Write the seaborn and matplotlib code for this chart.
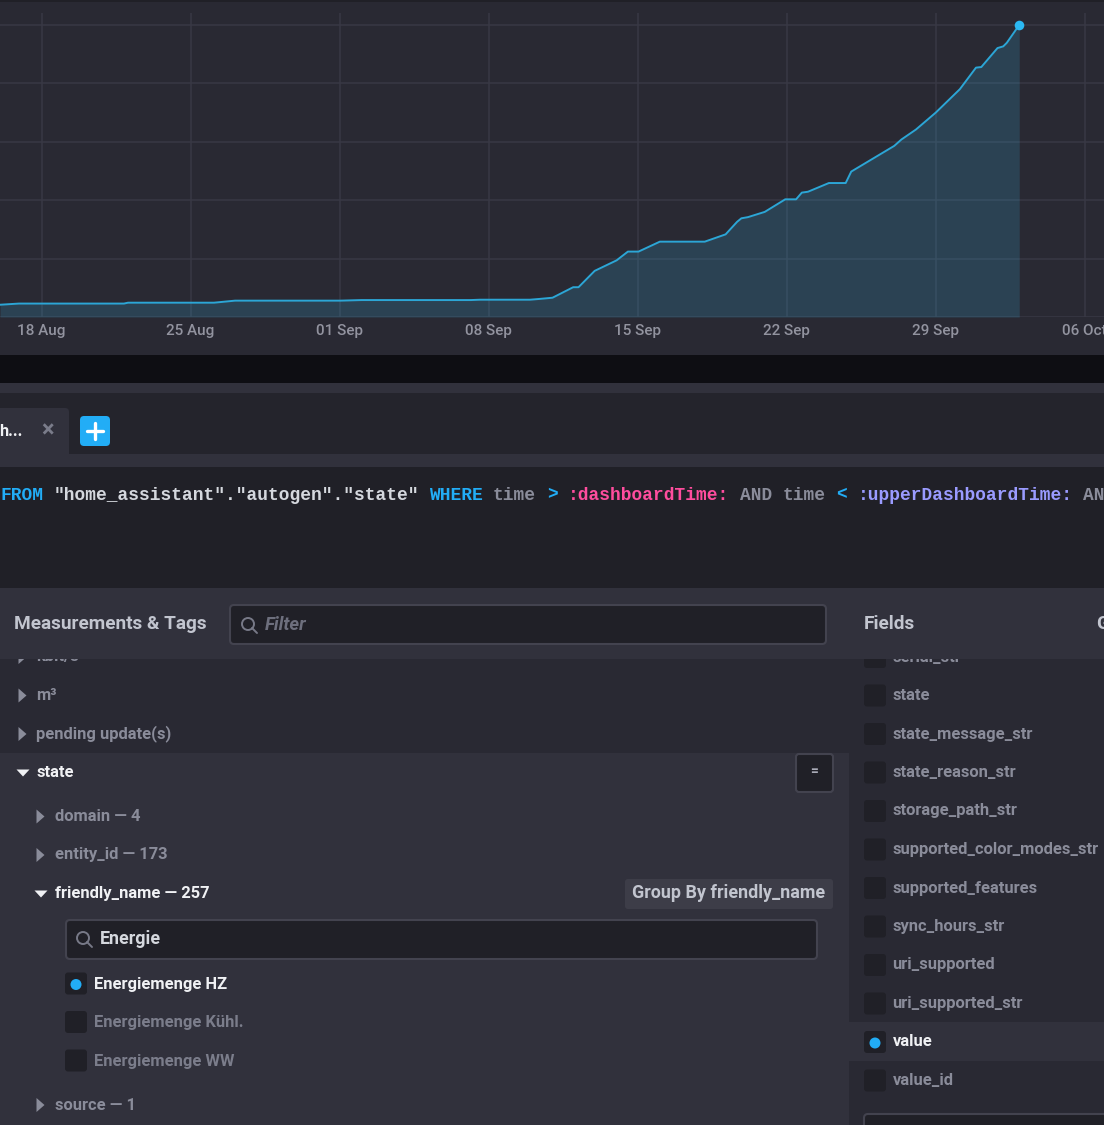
import pandas as pd
import numpy as np
import matplotlib
matplotlib.use('Agg')
import matplotlib.pyplot as plt
import matplotlib.dates as mdates
from matplotlib.patches import Rectangle, FancyBboxPatch, Polygon, Circle
from matplotlib.transforms import ScaledTranslation
import seaborn as sns

# values (days after 18 Aug, energy in chart units)
day_offset = [-1.97, -1.08, 3.85, 4.04, 8.08, 9.07, 14.03, 15.01, 20.14, 20.57, 22.92,
              23.39, 23.98, 24.95, 25.2, 25.96, 26.99, 27.52, 28.02, 29.02, 31.13,
              32.11, 32.65, 32.85, 33.16, 33.95, 34.91, 35.42, 35.69, 35.98, 36.96,
              37.75, 38.01, 40.03, 40.37, 41.05, 41.98, 43.11, 43.87, 44.12, 44.88,
              45.15, 45.32, 45.9]
energy = [21, 23, 23, 24.5, 24.5, 28, 28, 29, 29, 29.6, 29.6,
          31, 33, 51, 51, 79, 97, 112, 112, 129, 129,
          141.5, 163, 169, 171, 180, 201.5, 201.5, 213, 214.5, 229.4,
          229.4, 249, 293, 304, 321, 350, 390, 427, 428, 460.5,
          463.4, 469.6, 500]
grid_values = [0, 100, 200, 300, 400, 500]
tick_weeks = ['2023-08-18', '2023-08-25', '2023-09-01', '2023-09-08',
              '2023-09-15', '2023-09-22', '2023-09-29', '2023-10-06']

tag_rows = ['kbit/s', 'm³', 'pending update(s)', 'state']
tag_subrows = ['domain — 4', 'entity_id — 173', 'friendly_name — 257']
energy_rows = ['Energiemenge HZ', 'Energiemenge Kühl.', 'Energiemenge WW']
field_rows = ['serial_str', 'state', 'state_message_str', 'state_reason_str', 'storage_path_str',
              'supported_color_modes_str', 'supported_features', 'sync_hours_str',
              'uri_supported', 'uri_supported_str', 'value', 'value_id']

query_parts = [('FROM', 'blue'), ('"home_assistant"."autogen"."state"', 'white'), ('WHERE', 'blue'),
               ('time', 'grey'), ('>', 'blue'), (':dashboardTime:', 'pink'), ('AND', 'grey'),
               ('time', 'grey'), ('<', 'blue'), (':upperDashboardTime:', 'purple'), ('AN', 'grey')]

df = pd.DataFrame({
    'time': pd.Timestamp('2023-08-18') + pd.to_timedelta(day_offset, unit='D'),
    'energy': energy,
})

sns.set_theme(style='dark')
plt.rcParams['font.family'] = ['Roboto', 'DejaVu Sans']

BLUE = '#22adf6'
PANEL = '#292933'
LIGHT = '#31313c'
DARK = '#202027'
EDGE = '#43434f'
CODE = {'blue': BLUE, 'white': '#d5d8de', 'grey': '#8a8c9a', 'pink': '#ff4d9e', 'purple': '#9a9bff'}

W, H = 1104, 1125
fig = plt.figure(figsize=(W / 100, H / 100), dpi=100, facecolor=PANEL)

# page chrome, in pixel coordinates
ui = fig.add_axes([0, 0, 1, 1])
ui.set_xlim(0, W)
ui.set_ylim(H, 0)
ui.axis('off')


def rect(x0, y0, x1, y1, color, z=1):
    ui.add_patch(Rectangle((x0, y0), x1 - x0, y1 - y0, fc=color, ec='none', zorder=z))


def box(x0, y0, x1, y1, fc, ec='none', lw=1.5, r=4, z=3):
    ui.add_patch(FancyBboxPatch((x0, y0), x1 - x0, y1 - y0, boxstyle=f'round,pad=0,rounding_size={r}',
                                fc=fc, ec=ec, lw=lw, zorder=z))


def label(x, y, s, color='#8a8c9a', size=11.85, weight='bold', z=2, **kw):
    ui.text(x, y + 1, s, color=color, fontsize=size, fontweight=weight, va='center', zorder=z, **kw)


def tri_right(x, y, color='#8a8c9a'):
    ui.add_patch(Polygon([(x, y - 7), (x + 8, y), (x, y + 7)], fc=color, ec='none', zorder=2))


def tri_down(x, y, color='#f0f1f4'):
    ui.add_patch(Polygon([(x, y - 3), (x + 13, y - 3), (x + 6.5, y + 4)], fc=color, ec='none', zorder=2))


def search_icon(x, y, z=4):
    ui.add_patch(Circle((x, y), 6, fc='none', ec='#777987', lw=1.4, zorder=z))
    ui.plot([x + 4, x + 9], [y + 4, y + 9], color='#777987', lw=1.4, zorder=z)


def check(x, y, on=False):
    box(x, y - 11, x + 22, y + 11, '#202027', r=3, z=2)
    if on:
        ui.add_patch(Circle((x + 11, y + 1), 5.5, fc=BLUE, ec='none', zorder=3))


# background bands
rect(0, 0, W, 1.5, '#202027')
rect(0, 355, W, 383, '#0e0e13')
rect(0, 383, W, 393, LIGHT)
rect(0, 393, W, 455, '#24242c')
rect(0, 454, W, 467, LIGHT, z=1.3)
rect(0, 467, W, 588, DARK, z=1.3)
rect(0, 753, 849, H, LIGHT)
rect(849, 1022, W, 1061, LIGHT)
rect(0, 588, W, 659, LIGHT, z=5)

# tab row
ui.add_patch(FancyBboxPatch((-10, 408), 79, 50, boxstyle='round,pad=0,rounding_size=4', fc=LIGHT, ec='none', zorder=1.2))
label(-1, 430, 'h...', color='#f0f1f4', size=11.8, z=6)
label(48, 430, '×', color='#7a7c8a', size=17, ha='center', z=6)
box(80, 416, 110, 446, BLUE, r=4)
ui.plot([95, 95], [423, 439], color='white', lw=2.4, zorder=4, solid_capstyle='round')
ui.plot([87, 103], [431, 431], color='white', lw=2.4, zorder=4, solid_capstyle='round')

# query line
ADVANCE = 10.72
col = 0
for part, tone in query_parts:
    ui.text(col * ADVANCE, 495, part, color=CODE[tone], fontsize=12.9, fontweight='bold',
            family='Liberation Mono', va='center', zorder=2)
    col += len(part) + 1

# headers
label(14, 623, 'Measurements & Tags', color='#c2c5cf', size=13.65, z=6)
label(864, 623, 'Fields', color='#c2c5cf', size=13.65, z=6)
label(1096.5, 623, 'G', color='#c2c5cf', size=13.65, z=6)
box(230, 605, 826, 644, DARK, EDGE, z=6)
search_icon(248, 624, z=7)
ui.text(265, 625, 'Filter', color='#6d6f7d', fontsize=13.3, fontstyle='italic', fontweight='bold', va='center', zorder=7)

# measurements column
row_y = 656
for i, name in enumerate(tag_rows):
    y = row_y + i * 38.5
    if name == 'state':
        tri_down(16.5, y + 1)
        label(36.5, y, name, color='#f0f1f4')
    else:
        tri_right(18.5, y + 1)
        label(36.5, y, name)

box(796, 754, 833, 792, DARK, EDGE, r=3)
label(814, 770, '=', color='#a9abb7', size=10, ha='center', z=4)

for i, name in enumerate(tag_subrows):
    y = 815.5 + i * 38.5
    if name.startswith('friendly'):
        tri_down(34.5, y + 1)
        label(55, y, name, color='#f0f1f4')
    else:
        tri_right(36.5, y + 1)
        label(55, y, name)

box(625, 879, 833, 909, '#3d3d48', r=3)
label(632, 892, 'Group By friendly_name', color='#c2c5cf', size=12.9, z=4)

box(66, 920, 817, 959, DARK, EDGE)
search_icon(83, 938)
label(100, 938.5, 'Energie', color='#d5d8de', size=12.85, z=4)

for i, name in enumerate(energy_rows):
    y = 983.5 + i * 38.5
    check(65, y, on=i == 0)
    label(93.5, y, name, color='#f0f1f4' if i == 0 else '#7b7d8b')

tri_right(36.5, 1105)
label(55, 1104, 'source — 1')

# fields column
for i, name in enumerate(field_rows):
    y = 656 + i * 38.5
    check(864, y + 1, on=name == 'value')
    label(892.5, y, name, color='#f0f1f4' if name == 'value' else '#8a8c9a')
box(864, 1114, 1130, 1150, DARK, EDGE)

# chart
ax = fig.add_axes([0, 1 - 317 / H, 1, (317 - 13) / H])
ax.patch.set_alpha(0)
ax.set_xticks(pd.to_datetime(tick_weeks))
ax.set_yticks(grid_values)
ax.grid(True, color='#383844', lw=1.1)
ax.set_axisbelow(True)
ax.fill_between(df['time'], df['energy'], 0, color='#38abd8', alpha=0.2, lw=0, zorder=1.5)
sns.lineplot(data=df, x='time', y='energy', ax=ax, color='#2ca6d6', lw=1.4, zorder=3, errorbar=None)
sns.scatterplot(data=df.tail(1), x='time', y='energy', ax=ax, color='#2bb8f2', s=48, lw=0, zorder=4, clip_on=False)

start = pd.Timestamp('2023-08-18')
ax.set_xlim(start + pd.Timedelta(days=-42 / 21.29), start + pd.Timedelta(days=(W - 42) / 21.29))
ax.set_ylim(0, 304 / 58.4 * 100)
ax.xaxis.set_major_formatter(mdates.DateFormatter('%d %b'))
ax.set_xlabel('')
ax.set_ylabel('')
ax.set_yticklabels([])
ax.tick_params(axis='x', length=0, pad=5, labelsize=10.95, labelcolor='#92939f')
ax.tick_params(axis='y', length=0)
shift = ScaledTranslation(-1 / 100, 0, fig.dpi_scale_trans)
for lab in ax.get_xticklabels():
    lab.set_fontweight('medium')
    lab.set_transform(lab.get_transform() + shift)
for sp in ax.spines.values():
    sp.set_visible(False)

fig.savefig('out.png', dpi=100, facecolor=fig.get_facecolor())
